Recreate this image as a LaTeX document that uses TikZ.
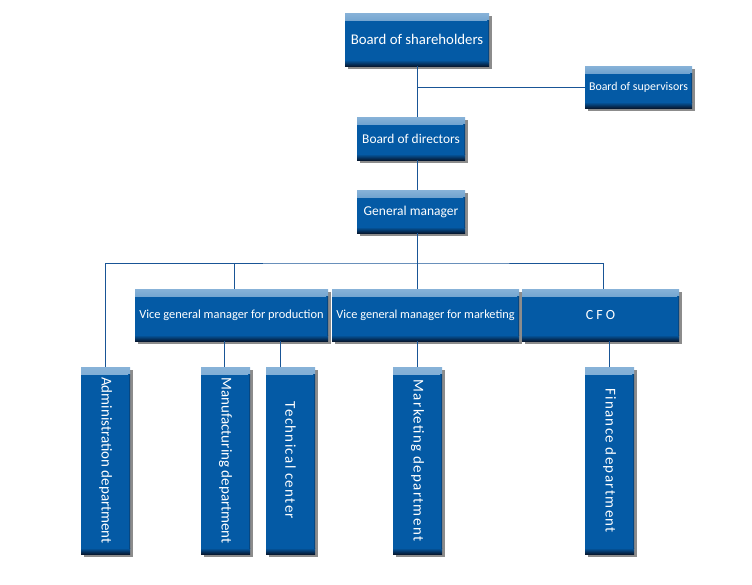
\documentclass[tikz,border=0pt]{standalone}
\usepackage{fontspec}
\usepackage{tikz}
\usetikzlibrary{positioning,shadows,calc}
\newfontfamily\boxfont{Carlito}
\newfontfamily\spacedfont[LetterSpace=9]{Carlito}
\definecolor{boxblue}{RGB}{4,90,165}
\definecolor{boxlight}{RGB}{135,178,216}
\definecolor{boxdark}{RGB}{6,26,52}
\definecolor{linkblue}{RGB}{25,85,150}
\newcommand{\vtext}[1]{\rotatebox{-90}{#1}}

\begin{document}
\begin{tikzpicture}[x=1pt,y=-1pt,
    orgbox/.style={fill=boxblue,text=white,inner sep=0pt,align=center,
      font=\boxfont\fontsize{13.5}{15}\selectfont,
      drop shadow={shadow xshift=2.5pt,shadow yshift=-2.5pt,fill=black,opacity=.45},
      path picture={
        \shade[top color=boxlight,bottom color=boxblue]
          (path picture bounding box.north west) rectangle ([yshift=-7pt]path picture bounding box.north east);
        \shade[top color=boxblue,bottom color=boxdark]
          ([yshift=6pt]path picture bounding box.south west) rectangle (path picture bounding box.south east);
        \shade[left color=boxblue,right color=boxdark!60!boxblue]
          ([xshift=-2pt,yshift=-7pt]path picture bounding box.north east) rectangle ([yshift=6pt]path picture bounding box.south east);
      }},
    deptbox/.style={orgbox,minimum width=49pt,minimum height=187pt,font=\boxfont\fontsize{15}{17}\selectfont},
    link/.style={draw=linkblue,line width=.9pt}]
  \useasboundingbox (0,0) rectangle (752,584);
  % top of the chart
  \node[orgbox,minimum width=144pt,minimum height=53pt,font=\boxfont\fontsize{14.8}{16}\selectfont] (shareholders) at (417,39.5) {Board of shareholders};
  \node[orgbox,minimum width=107pt,minimum height=42pt,font=\boxfont\fontsize{11.9}{14}\selectfont] (supervisors) at (638.5,87) {Board of supervisors};
  \node[orgbox,minimum width=108pt,minimum height=43pt,font=\boxfont\fontsize{13.4}{15}\selectfont] (directors) at (411,138.5) {Board of directors};
  \node[orgbox,minimum width=108pt,minimum height=43pt] (gm) at (411,211.5) {General manager};
  \coordinate (bus) at (417,263);
  % second row
  \node[orgbox,minimum width=193pt,minimum height=52pt,font=\boxfont\fontsize{12.4}{14}\selectfont] (vgmprod) at (231.5,315) {Vice general manager for production};
  \node[orgbox,minimum width=187pt,minimum height=52pt,font=\boxfont\fontsize{12.3}{14}\selectfont] (vgmmkt) at (425.5,315) {Vice general manager for marketing};
  \node[orgbox,minimum width=157pt,minimum height=52pt,font=\boxfont\fontsize{14}{16}\selectfont] (cfo) at (600.5,315) {C F O};
  % departments
  \node[deptbox] (admin) at (105.5,460.5) {\vtext{Administration department}};
  \node[deptbox] (manuf) at (225.5,460.5) {\vtext{Manufacturing department}};
  \node[deptbox,font=\spacedfont\fontsize{15}{17}\selectfont] (tech) at (290.5,460.5) {\vtext{Technical center}};
  \node[deptbox,font=\spacedfont\fontsize{15}{17}\selectfont] (mktdept) at (417.5,460.5) {\vtext{Marketing department}};
  \node[deptbox,font=\spacedfont\fontsize{15}{17}\selectfont] (findept) at (609.5,460.5) {\vtext{Finance department}};
  % connectors
  \draw[link] (shareholders.south) -- (directors.north -| shareholders.south);
  \draw[link] (supervisors.west) -- (supervisors.west -| shareholders.south);
  \draw[link] (directors.south -| shareholders.south) -- (gm.north -| shareholders.south);
  \draw[link] (gm.south -| shareholders.south) -- (bus);
  \draw[link] (admin.north) |- (bus) -| ([xshift=2.5pt]cfo.north);
  \draw[link] ([xshift=2.5pt]vgmprod.north) -- ([xshift=2.5pt]vgmprod.north |- bus);
  \draw[link] (vgmmkt.north -| bus) -- (bus);
  \draw[link] ([xshift=-1.5pt]manuf.north |- vgmprod.south) -- ([xshift=-1.5pt]manuf.north);
  \draw[link] ([xshift=-10.5pt]tech.north |- vgmprod.south) -- ([xshift=-10.5pt]tech.north);
  \draw[link] (mktdept.north |- vgmmkt.south) -- (mktdept.north);
  \draw[link] (findept.north |- cfo.south) -- (findept.north);
\end{tikzpicture}
\end{document}
